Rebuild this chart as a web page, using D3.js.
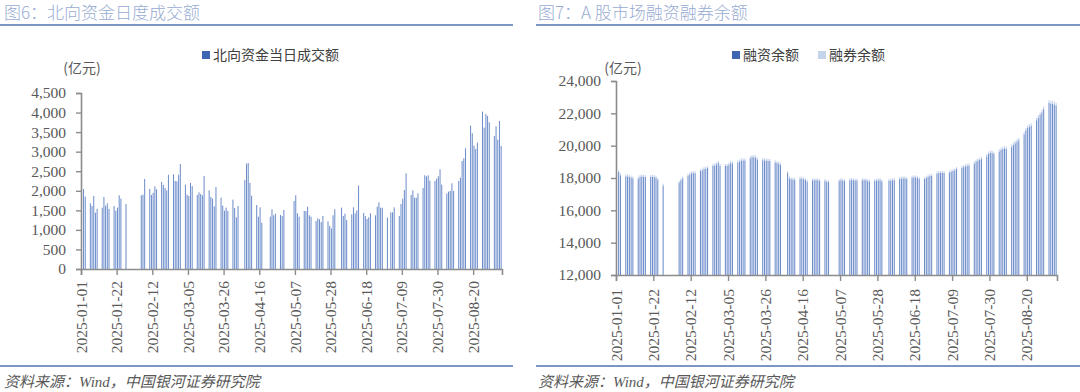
<!DOCTYPE html>
<html><head><meta charset="utf-8">
<script src="https://cdn.jsdelivr.net/npm/d3@7/dist/d3.min.js"></script>
<style>
html,body{margin:0;padding:0;background:#fff;}
svg{display:block;}
.cjk{font-family:"Noto Sans CJK SC","Noto Sans",sans-serif;}
.num{font-family:"Liberation Serif","DejaVu Serif",serif;}
.src{font-family:"Liberation Serif","Noto Sans CJK SC",serif;}
</style></head>
<body>
<svg id="c" width="1080" height="392"></svg>
<script>
// ---------------- DATA ----------------
const titles = ["图6：北向资金日度成交额", "图7：A 股市场融资融券余额"];
const unitLabel = "(亿元)";
const sourceText = "资料来源：Wind，中国银河证券研究院";
const legendLeft = ["北向资金当日成交额"];
const legendRight = ["融资余额", "融券余额"];
const xTickLabels = ["2025-01-01","2025-01-22","2025-02-12","2025-03-05","2025-03-26","2025-04-16",
  "2025-05-07","2025-05-28","2025-06-18","2025-07-09","2025-07-30","2025-08-20"];
const axisStart = "2025-01-01", axisEnd = "2025-09-06";
const yTicksLeft = [0,500,1000,1500,2000,2500,3000,3500,4000,4500];
const yTicksRight = [12000,14000,16000,18000,20000,22000,24000];

// A-share trading days (Jan 2 – Sep 5, 2025)
const tradeDates = [
"2025-01-02","2025-01-03","2025-01-06","2025-01-07","2025-01-08","2025-01-09","2025-01-10","2025-01-13","2025-01-14","2025-01-15","2025-01-16","2025-01-17","2025-01-20","2025-01-21","2025-01-22","2025-01-23","2025-01-24","2025-01-27",
"2025-02-05","2025-02-06","2025-02-07","2025-02-10","2025-02-11","2025-02-12","2025-02-13","2025-02-14","2025-02-17","2025-02-18","2025-02-19","2025-02-20","2025-02-21","2025-02-24","2025-02-25","2025-02-26","2025-02-27","2025-02-28",
"2025-03-03","2025-03-04","2025-03-05","2025-03-06","2025-03-07","2025-03-10","2025-03-11","2025-03-12","2025-03-13","2025-03-14","2025-03-17","2025-03-18","2025-03-19","2025-03-20","2025-03-21","2025-03-24","2025-03-25","2025-03-26","2025-03-27","2025-03-28","2025-03-31",
"2025-04-01","2025-04-02","2025-04-03","2025-04-07","2025-04-08","2025-04-09","2025-04-10","2025-04-11","2025-04-14","2025-04-15","2025-04-16","2025-04-17","2025-04-18","2025-04-21","2025-04-22","2025-04-23","2025-04-24","2025-04-25","2025-04-28","2025-04-29","2025-04-30",
"2025-05-06","2025-05-07","2025-05-08","2025-05-09","2025-05-12","2025-05-13","2025-05-14","2025-05-15","2025-05-16","2025-05-19","2025-05-20","2025-05-21","2025-05-22","2025-05-23","2025-05-26","2025-05-27","2025-05-28","2025-05-29","2025-05-30",
"2025-06-03","2025-06-04","2025-06-05","2025-06-06","2025-06-09","2025-06-10","2025-06-11","2025-06-12","2025-06-13","2025-06-16","2025-06-17","2025-06-18","2025-06-19","2025-06-20","2025-06-23","2025-06-24","2025-06-25","2025-06-26","2025-06-27","2025-06-30",
"2025-07-01","2025-07-02","2025-07-03","2025-07-04","2025-07-07","2025-07-08","2025-07-09","2025-07-10","2025-07-11","2025-07-14","2025-07-15","2025-07-16","2025-07-17","2025-07-18","2025-07-21","2025-07-22","2025-07-23","2025-07-24","2025-07-25","2025-07-28","2025-07-29","2025-07-30","2025-07-31",
"2025-08-01","2025-08-04","2025-08-05","2025-08-06","2025-08-07","2025-08-08","2025-08-11","2025-08-12","2025-08-13","2025-08-14","2025-08-15","2025-08-18","2025-08-19","2025-08-20","2025-08-21","2025-08-22","2025-08-25","2025-08-26","2025-08-27","2025-08-28","2025-08-29",
"2025-09-01","2025-09-02","2025-09-03","2025-09-04","2025-09-05"];
// Days when Northbound Connect was closed (HK holidays)
const northClosed = ["2025-04-18","2025-04-21","2025-07-01"];

// 北向资金当日成交额 (亿元), one per northbound trading day
const northTurnover = [
2046,1850,1680,1611,1867,1440,1535,1568,1841,1620,1680,1535,1611,1491,1568,1884,1799,1662,
1884,1901,2302,2046,1893,1944,2114,2037,2225,2148,2071,2012,2412,2420,2250,2242,2412,2685,
2157,1901,1867,2200,2123,1893,1961,1918,1884,2378,2012,1841,1799,1603,2097,1824,1620,1491,1568,1483,1773,
1560,1321,1611,2276,2693,2710,2200,1875,1637,1338,1577,1185,1338,1526,1372,1415,1381,1355,1509,
1739,1884,1424,1338,1483,1483,1594,1372,1338,1228,1296,1270,1202,1355,1219,1100,1040,1372,1526,
1568,1355,1415,1253,1398,1577,1424,1500,2131,1432,1355,1279,1321,1424,1372,1594,1705,1568,1568,1313,
1449,1449,1577,1355,1662,1799,2020,2447,1893,2012,1824,1824,1935,2071,2396,2370,2396,2259,2250,2310,2370,2549,
2157,1935,1978,1995,2191,1995,2250,2336,2762,2830,3086,3665,3470,3154,3068,3231,4023,3614,3964,3913,3751,
3401,3649,3307,3785,3146];

// 融资余额 (亿元)
const marginFinancing = [
18373,18170,18107,18107,18067,18032,17982,17963,18067,18108,18082,18068,18068,18083,18068,18014,17884,17535,
17715,17864,17983,18147,18222,18301,18300,18300,18434,18479,18558,18578,18618,18742,18782,18846,18946,18762,
18742,18742,18826,18945,18905,18965,19024,19089,19089,19088,19212,19292,19292,19272,19153,19108,19089,19089,19069,19050,18965,
18925,18906,18826,18312,17985,17926,17906,17886,17966,17966,17927,17887,17788,17868,17868,17868,17868,17829,17829,17769,17750,
17810,17869,17849,17809,17868,17888,17868,17848,17848,17867,17867,17867,17827,17787,17827,17846,17866,17866,17787,
17827,17847,17866,17866,17946,17965,17985,17985,17945,18025,18044,18044,18004,17944,17944,18003,18068,18132,18147,18271,
18311,18311,18330,18310,18349,18389,18433,18477,18556,18635,18674,18718,18757,18777,18901,19020,19084,19123,19187,19346,19494,19573,19552,
19492,19636,19739,19798,19837,19797,19936,20054,20152,20260,20339,20707,20955,21113,21177,21241,21569,21727,21895,22058,22261,
22649,22608,22588,22548,22489];

// 融券余额 (亿元)
const marginLending = [
121,120,119,119,118,118,118,117,118,118,118,117,117,117,117,116,116,115,
115,116,117,118,118,119,120,120,121,121,122,122,122,123,123,124,124,123,
123,123,124,125,125,125,126,126,126,127,128,128,128,128,127,127,126,126,126,125,125,
125,124,124,118,115,114,114,114,114,114,113,113,112,112,112,112,112,111,111,111,110,
110,111,111,111,112,112,112,112,112,113,113,113,113,113,113,114,114,114,113,
113,113,114,114,114,115,115,115,115,115,116,116,116,116,116,117,117,118,118,119,
119,119,120,120,121,121,122,123,124,125,126,127,128,128,129,130,131,132,133,134,136,137,138,
138,139,141,142,143,143,144,146,148,150,151,153,155,157,158,159,161,163,165,167,169,
171,172,172,172,171];

// ---------------- DRAW ----------------
const parse = d3.timeParse("%Y-%m-%d");
const fmtDate = d3.timeFormat("%Y-%m-%d");
const svg = d3.select("#c");

const titleColor = "#97abd2", ruleColor = "#7d96c6", axisColor = "#8c8c8c", textColor = "#595959";
const darkBlue = "#3f66b2", barBlue = "#6d8dcb", lightBlue = "#c6d3ec";

function panelFrame(x0, x1, title, tx) {
  svg.append("text").attr("class","cjk").attr("x", tx).attr("y", 19)
    .attr("font-size", 17).attr("font-weight", 300).attr("fill", titleColor).text(title);
  svg.append("line").attr("x1", x0).attr("x2", x1).attr("y1", 25).attr("y2", 25)
    .attr("stroke", ruleColor).attr("stroke-width", 2);
  svg.append("line").attr("x1", x0).attr("x2", x1).attr("y1", 366).attr("y2", 366)
    .attr("stroke", ruleColor).attr("stroke-width", 2);
  svg.append("text").attr("class","src").attr("x", tx).attr("y", 387)
    .attr("font-size", 15).attr("font-style","italic").attr("fill", textColor).text(sourceText);
}
panelFrame(0, 513, titles[0], 4);
panelFrame(536, 1080, titles[1], 538);

function drawAxes(g, x, y, yTicks, labelOffset) {
  const xa = d3.axisBottom(x).tickValues(xTickLabels.map(parse)).tickFormat(fmtDate)
    .tickSizeOuter(0).tickSize(6);
  const gx = g.append("g").attr("transform", `translate(0,${y.range()[0]})`).call(xa);
  gx.selectAll("text").attr("class","num").attr("font-size", 15.5).attr("fill", textColor)
    .attr("transform","rotate(-90)").attr("text-anchor","end")
    .attr("x", -labelOffset).attr("y", 0).attr("dy","0.33em");
  const ya = d3.axisLeft(y).tickValues(yTicks).tickFormat(d3.format(",")).tickSizeOuter(0).tickSize(5);
  const gy = g.append("g").attr("transform", `translate(${x.range()[0]},0)`).call(ya);
  gy.selectAll("text").attr("class","num").attr("font-size", 15.5).attr("fill", textColor).attr("x", -15);
  [gx, gy].forEach(a => {
    a.select(".domain").attr("stroke", axisColor).attr("stroke-width", 1.6);
    a.selectAll(".tick line").attr("stroke", axisColor).attr("stroke-width", 1.4);
  });
}

// ---- Left panel ----
{
  const g = svg.append("g");
  const x = d3.scaleTime().domain([parse(axisStart), parse(axisEnd)]).range([81, 502]);
  const y = d3.scaleLinear().domain([0, 4500]).range([269, 93]);
  const northDates = tradeDates.filter(d => !northClosed.includes(d));
  const data = northDates.map((d, i) => ({date: parse(d), v: northTurnover[i]}));
  const slot = x(parse("2025-01-02")) - x(parse("2025-01-01"));
  const bw = slot * 0.6;
  g.append("g").selectAll("rect").data(data).join("rect")
    .attr("x", d => x(d.date) + (slot - bw) / 2)
    .attr("width", bw)
    .attr("y", d => y(d.v))
    .attr("height", d => y(0) - y(d.v))
    .attr("fill", barBlue);
  drawAxes(g, x, y, yTicksLeft, 12);
  g.append("text").attr("class","cjk").attr("x", 82).attr("y", 73).attr("text-anchor","middle")
    .attr("font-size", 14).attr("fill", textColor).text(unitLabel);
  g.append("rect").attr("x", 202).attr("y", 51).attr("width", 8).attr("height", 8).attr("fill", darkBlue);
  g.append("text").attr("class","cjk").attr("x", 213).attr("y", 60).attr("font-size", 14)
    .attr("fill", "#404040").text(legendLeft[0]);
}

// ---- Right panel ----
{
  const g = svg.append("g");
  const x = d3.scaleTime().domain([parse(axisStart), parse(axisEnd)]).range([616, 1057]);
  const y = d3.scaleLinear().domain([12000, 24000]).range([275, 81]);
  const data = tradeDates.map((d, i) => ({date: parse(d), fin: marginFinancing[i], lend: marginLending[i]}));
  const stack = d3.stack().keys(["fin","lend"])(data);
  const slot = x(parse("2025-01-02")) - x(parse("2025-01-01"));
  const bw = slot * 0.6;
  const colors = [barBlue, lightBlue];
  stack.forEach((layer, li) => {
    g.append("g").selectAll("rect").data(layer).join("rect")
      .attr("x", d => x(d.data.date) + (slot - bw) / 2)
      .attr("width", bw)
      .attr("y", d => y(d[1]))
      .attr("height", d => y(Math.max(d[0], 12000)) - y(d[1]))
      .attr("fill", colors[li]);
  });
  drawAxes(g, x, y, yTicksRight, 14);
  g.append("text").attr("class","cjk").attr("x", 623).attr("y", 73).attr("text-anchor","middle")
    .attr("font-size", 14).attr("fill", textColor).text(unitLabel);
  g.append("rect").attr("x", 732).attr("y", 51).attr("width", 8).attr("height", 8).attr("fill", darkBlue);
  g.append("text").attr("class","cjk").attr("x", 743).attr("y", 60).attr("font-size", 14)
    .attr("fill", "#404040").text(legendRight[0]);
  g.append("rect").attr("x", 818).attr("y", 51).attr("width", 8).attr("height", 8).attr("fill", lightBlue);
  g.append("text").attr("class","cjk").attr("x", 829).attr("y", 60).attr("font-size", 14)
    .attr("fill", "#404040").text(legendRight[1]);
}
</script>
</body></html>
